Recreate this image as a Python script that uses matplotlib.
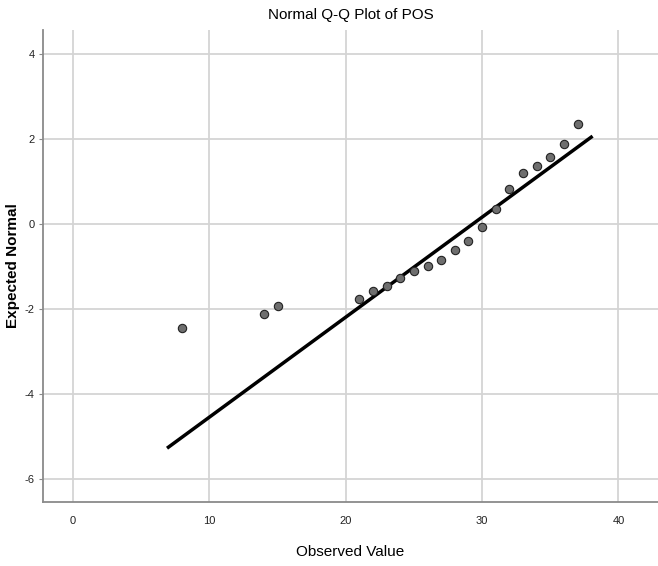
import matplotlib.pyplot as plt

observed = [8, 14, 15, 21, 22, 23, 24, 25, 26, 27, 28, 29, 30, 31, 32, 33, 34, 35, 36, 37]
expected = [-2.45, -2.12, -1.93, -1.76, -1.58, -1.46, -1.28, -1.11, -1.0, -0.85,
            -0.62, -0.40, -0.07, 0.35, 0.82, 1.19, 1.36, 1.57, 1.87, 2.36]

# reference normal line end points
line_x = [7, 38]
line_y = [-5.25, 2.04]

x_ticks = [0, 10, 20, 30, 40]
y_ticks = [-6, -4, -2, 0, 2, 4]

plt.rcParams["font.family"] = ["Liberation Sans Narrow", "Liberation Sans", "DejaVu Sans"]
plt.rcParams["axes.unicode_minus"] = False

fig = plt.figure(figsize=(6.58, 5.66), dpi=100)
ax = fig.add_axes([0.0653, 0.113, 0.9347, 0.834])

ax.plot(line_x, line_y, color="black", linewidth=2.5, zorder=3)
ax.scatter(observed, expected, s=36, color="#6e6e6e", edgecolor="#222222",
           linewidth=0.8, zorder=4)

ax.set_xlim(-2.2, 42.9)
ax.set_ylim(-6.54, 4.56)
ax.set_xticks(x_ticks)
ax.set_yticks(y_ticks)
ax.grid(True, color="#d4d4d4", linewidth=1.3)
ax.set_axisbelow(True)

for side in ["top", "right"]:
    ax.spines[side].set_visible(False)
for side in ["left", "bottom"]:
    ax.spines[side].set_color("#8a8a8a")
    ax.spines[side].set_linewidth(1.3)

ax.tick_params(axis="x", length=0, pad=10, labelsize=8, labelcolor="#222222")
ax.tick_params(axis="y", length=3, color="#8a8a8a", pad=3, labelsize=8,
               labelcolor="#222222")

ax.set_title("Normal Q-Q Plot of POS", fontsize=11, pad=8)
ax.set_xlabel("Observed Value", fontsize=11, labelpad=14)
fig.text(0.019, 0.53, "Expected Normal", rotation=90, fontsize=11,
         fontweight="bold", ha="center", va="center")

fig.savefig("out.png", dpi=100)
